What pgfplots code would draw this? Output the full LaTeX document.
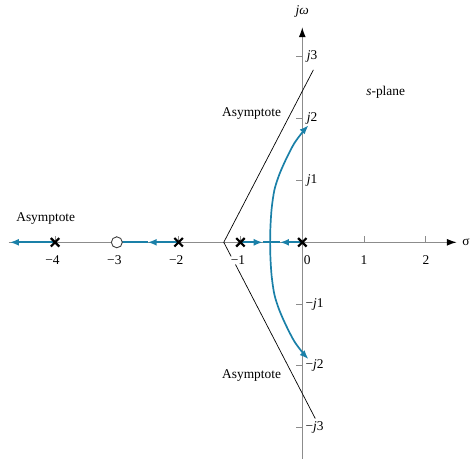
\documentclass[border=0pt]{standalone}
\usepackage{fontspec}
\setmainfont{Liberation Serif}
\usepackage{pgfplots}
\pgfplotsset{compat=1.18}
\usetikzlibrary{arrows.meta}
\definecolor{locus}{RGB}{26,128,168}
\definecolor{axgray}{RGB}{140,140,140}
\begin{document}
\begin{tikzpicture}
\begin{axis}[
   x=62bp, y=62bp,
   xmin=-4.75, xmax=2.5,
   ymin=-3.5, ymax=3.48,
   axis lines=middle,
   axis line style={axgray, line width=1.3bp, -{Latex[black,length=10bp,width=7bp]}},
   xtick=\empty, ytick=\empty,
   clip=false,
   font=\fontsize{13.5}{16}\selectfont,
   branch/.style={draw=locus, line width=1.7bp},
   tip/.style={-{Latex[length=9bp,width=7bp]}},
 ]
  % room around the axis, as in the reference
  \path (axis cs:-4.89,-3.5) rectangle (axis cs:2.74,3.92);

  % ticks
  \foreach \t in {-4,-3,-2,-1,1,2}
    {\edef\tmp{\noexpand\draw[axgray, line width=1bp] (axis cs:\t,0) -- ++(0pt,6bp);}\tmp}
  \foreach \t in {-3,-2,-1,1,2,3}
    {\edef\tmp{\noexpand\draw[axgray, line width=1bp] (axis cs:0,\t) -- ++(-6bp,0pt);}\tmp}

  % asymptotes
  \addplot[black, line width=0.7bp] coordinates {(0.18,2.79) (-1.27,0) (-1.15,-0.23)};
  \addplot[black, line width=0.7bp] coordinates {(-1.08,-0.36) (0.21,-2.85)};

  % real-axis branches
  \addplot[branch, tip] coordinates {(-4,0) (-4.73,0)};
  \addplot[branch, tip] coordinates {(-2,0) (-2.5,0)};
  \addplot[branch] coordinates {(-2.5,0) (-3,0)};
  \addplot[branch, tip] coordinates {(-1,0) (-0.64,0)};
  \addplot[branch] coordinates {(-0.64,0) (-0.52,0)};
  \addplot[branch, tip] coordinates {(0,0) (-0.36,0)};
  \addplot[branch] coordinates {(-0.36,0) (-0.52,0)};

  % complex branches
  \addplot[branch, tip, smooth] coordinates {(-0.52,0) (-0.515,0.25) (-0.495,0.55) (-0.45,0.85)
     (-0.37,1.1) (-0.26,1.35) (-0.13,1.6) (0.01,1.79) (0.1,1.89)};
  \addplot[branch, tip, smooth] coordinates {(-0.52,0) (-0.515,-0.25) (-0.495,-0.55) (-0.45,-0.85)
     (-0.37,-1.1) (-0.26,-1.35) (-0.13,-1.6) (0.01,-1.79) (0.1,-1.89)};

  % poles and zero
  \addplot[only marks, mark=x, mark size=6bp, line width=2.2bp, black] coordinates {(-4,0) (-2,0) (-1,0) (0,0)};
  \addplot[only marks, mark=*, mark size=5.5bp, mark options={fill=white, draw=black!75, line width=0.9bp}] coordinates {(-3,0)};

  % tick labels
  \node at (axis cs:-4.04,-0.29) {−4};
  \node at (axis cs:-3.04,-0.29) {−3};
  \node at (axis cs:-2.04,-0.29) {−2};
  \node at (axis cs:-1.04,-0.29) {−1};
  \node at (axis cs:0.08,-0.29) {0};
  \node at (axis cs:1,-0.29) {1};
  \node at (axis cs:2,-0.29) {2};
  \node[anchor=west, inner sep=0pt] at (axis cs:0.07,3) {\textit{j}3};
  \node[anchor=west, inner sep=0pt] at (axis cs:0.07,2) {\textit{j}2};
  \node[anchor=west, inner sep=0pt] at (axis cs:0.07,1) {\textit{j}1};
  \node[anchor=west, inner sep=0pt] at (axis cs:0.05,-1) {−\textit{j}1};
  \node[anchor=west, inner sep=0pt] at (axis cs:0.05,-2) {−\textit{j}2};
  \node[anchor=west, inner sep=0pt] at (axis cs:0.05,-3) {−\textit{j}3};

  % axis names and notes
  \node at (axis cs:0,3.73) {\textit{jω}};
  \node at (axis cs:2.65,0) {σ};
  \node at (axis cs:1.35,2.42) {\textit{s}-plane};
  \node at (axis cs:-4.15,0.39) {Asymptote};
  \node at (axis cs:-0.82,2.08) {Asymptote};
  \node at (axis cs:-0.82,-2.16) {Asymptote};
\end{axis}
\end{tikzpicture}
\end{document}
